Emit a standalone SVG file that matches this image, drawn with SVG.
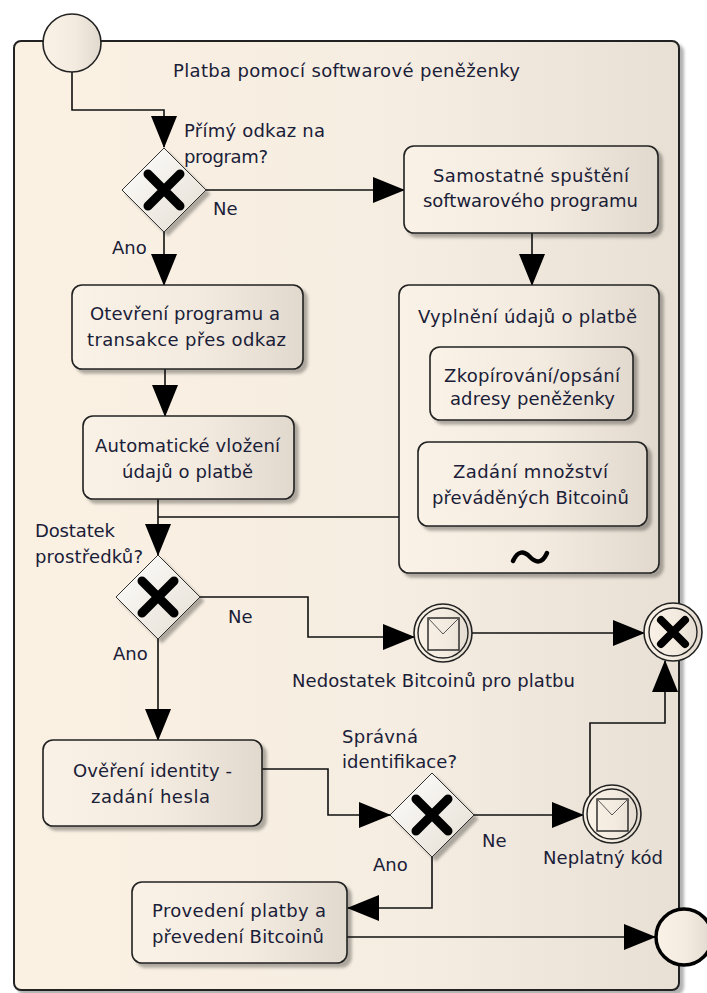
<svg xmlns="http://www.w3.org/2000/svg" width="707" height="993" viewBox="0 0 707 993">
<style>
.t{font-family:"DejaVu Sans","Liberation Sans",sans-serif;font-size:18px;fill:#1a2038}
.m{text-anchor:middle}
.box{fill:url(#bg);stroke:#222;stroke-width:1.6}
.gw{fill:url(#gg);stroke:#333;stroke-width:1}
.x{stroke:#000;stroke-width:9;stroke-linecap:round}
.c{fill:none;stroke:#111;stroke-width:1.6}
.ev{fill:url(#bg);stroke:#222;stroke-width:1.6}
</style>
<defs>
<linearGradient id="bg" x1="0" y1="0" x2="1" y2="0">
<stop offset="0" stop-color="#faf2e6"/><stop offset="0.55" stop-color="#f3ebdf"/><stop offset="1" stop-color="#e1d9cd"/>
</linearGradient>
<linearGradient id="cg" x1="0" y1="0" x2="1" y2="0">
<stop offset="0" stop-color="#fbf1e3"/><stop offset="0.6" stop-color="#f5ede1"/><stop offset="1" stop-color="#e8e0d4"/>
</linearGradient>
<linearGradient id="gg" x1="0" y1="0" x2="1" y2="1">
<stop offset="0" stop-color="#ffffff"/><stop offset="1" stop-color="#e4ddd1"/>
</linearGradient>
<filter id="sh" x="-20%" y="-20%" width="150%" height="150%">
<feGaussianBlur in="SourceAlpha" stdDeviation="1.5"/>
<feOffset dx="4" dy="4" result="o"/>
<feFlood flood-color="#000" flood-opacity="0.3"/>
<feComposite in2="o" operator="in"/>
<feMerge><feMergeNode/><feMergeNode in="SourceGraphic"/></feMerge>
</filter>
<marker id="ah" markerUnits="userSpaceOnUse" markerWidth="32" markerHeight="28" viewBox="0 0 32 28" refX="31" refY="14" orient="auto">
<path d="M0,1 L32,14 L0,27 Z" fill="#000"/>
</marker>
</defs>

<g id="pool">
<rect x="14" y="41" width="665" height="949" rx="7" fill="url(#cg)" stroke="#222" stroke-width="2" filter="url(#sh)"/>
<text class="t" x="173" y="77" textLength="347" lengthAdjust="spacing">Platba pomocí softwarové peněženky</text>
</g>

<g id="connectors">
<path class="c" d="M72,72 V110 H164 V147" marker-end="url(#ah)"/>
<path class="c" d="M206,190 H404" marker-end="url(#ah)"/>
<path class="c" d="M164,232 V285" marker-end="url(#ah)"/>
<path class="c" d="M532,233 V285" marker-end="url(#ah)"/>
<path class="c" d="M165,369 V416" marker-end="url(#ah)"/>
<path class="c" d="M158,499 V555" marker-end="url(#ah)"/>
<path class="c" d="M399,517 H158"/>
<path class="c" d="M200,597 H308 V637 H414" marker-end="url(#ah)"/>
<path class="c" d="M472,633 H644" marker-end="url(#ah)"/>
<path class="c" d="M158,639 V740" marker-end="url(#ah)"/>
<path class="c" d="M262,769 H328 V815 H390" marker-end="url(#ah)"/>
<path class="c" d="M474,815 H583" marker-end="url(#ah)"/>
<path class="c" d="M590,795 V723 H665 V661" marker-end="url(#ah)"/>
<path class="c" d="M432,857 V908 H348" marker-end="url(#ah)"/>
<path class="c" d="M347,937 H655" marker-end="url(#ah)"/>
</g>

<g id="start">
<circle cx="72" cy="43" r="29" class="ev"/>
</g>

<g id="gw1">
<polygon class="gw" points="164,148 206,190 164,232 122,190" filter="url(#sh)"/>
<path class="x" d="M148,174 L180,206 M180,174 L148,206"/>
<text class="t" x="184" y="137" textLength="141" lengthAdjust="spacing">Přímý odkaz na</text>
<text class="t" x="184" y="163" textLength="84" lengthAdjust="spacing">program?</text>
<text class="t" x="213" y="215">Ne</text>
<text class="t" x="112" y="254">Ano</text>
</g>

<g id="samostatne">
<rect class="box" x="404" y="146" width="254" height="87" rx="10" filter="url(#sh)"/>
<text class="t m" x="531" y="182" textLength="196" lengthAdjust="spacing">Samostatné spuštění</text>
<text class="t m" x="530.5" y="207" textLength="215" lengthAdjust="spacing">softwarového programu</text>
</g>

<g id="vyplneni">
<rect class="box" x="399" y="285" width="260" height="288" rx="10" filter="url(#sh)"/>
<text class="t m" x="527.5" y="323" textLength="219" lengthAdjust="spacing">Vyplnění údajů o platbě</text>
<path d="M513,561 C518,550 524,551 530,557 C536,563 542,564 547,553" fill="none" stroke="#000" stroke-width="4.5" stroke-linecap="round"/>
</g>

<g id="zkopirovani">
<rect class="box" x="430" y="347" width="203" height="73" rx="10" filter="url(#sh)"/>
<text class="t m" x="532" y="382" textLength="176" lengthAdjust="spacing">Zkopírování/opsání</text>
<text class="t m" x="532.5" y="405" textLength="165" lengthAdjust="spacing">adresy peněženky</text>
</g>

<g id="zadani">
<rect class="box" x="418" y="442" width="229" height="84" rx="10" filter="url(#sh)"/>
<text class="t m" x="530.5" y="478" textLength="155" lengthAdjust="spacing">Zadání množství</text>
<text class="t m" x="530.5" y="504" textLength="197" lengthAdjust="spacing">převáděných Bitcoinů</text>
</g>

<g id="otevreni">
<rect class="box" x="72" y="285" width="231" height="84" rx="10" filter="url(#sh)"/>
<text class="t m" x="185" y="320" textLength="190" lengthAdjust="spacing">Otevření programu a</text>
<text class="t m" x="186.5" y="346" textLength="199" lengthAdjust="spacing">transakce přes odkaz</text>
</g>

<g id="automaticke">
<rect class="box" x="83" y="416" width="211" height="83" rx="10" filter="url(#sh)"/>
<text class="t m" x="187.5" y="452" textLength="185" lengthAdjust="spacing">Automatické vložení</text>
<text class="t m" x="187.5" y="478" textLength="131" lengthAdjust="spacing">údajů o platbě</text>
</g>

<g id="gw2">
<polygon class="gw" points="158,555 200,597 158,639 116,597" filter="url(#sh)"/>
<path class="x" d="M142,581 L174,613 M174,581 L142,613"/>
<text class="t" x="35" y="537" textLength="80" lengthAdjust="spacing">Dostatek</text>
<text class="t" x="35" y="563" textLength="108" lengthAdjust="spacing">prostředků?</text>
<text class="t" x="228" y="623">Ne</text>
<text class="t" x="113" y="660">Ano</text>
</g>

<g id="nedostatek">
<circle cx="443" cy="633" r="29" class="ev"/>
<circle cx="443" cy="633" r="25" fill="none" stroke="#222" stroke-width="1.4"/>
<rect x="428" y="618" width="31" height="32" fill="none" stroke="#222" stroke-width="1.4"/>
<path d="M428,618 L443,634 L459,618" fill="none" stroke="#555" stroke-width="1"/>
<text class="t m" x="433.5" y="687" textLength="283" lengthAdjust="spacing">Nedostatek Bitcoinů pro platbu</text>
</g>

<g id="cancel">
<circle cx="673" cy="632" r="29" class="ev"/>
<circle cx="673" cy="632" r="24" fill="none" stroke="#222" stroke-width="1.4"/>
<path d="M661,620 L685,644 M685,620 L661,644" stroke="#000" stroke-width="8" stroke-linecap="round"/>
</g>

<g id="overeni">
<rect class="box" x="43" y="740" width="219" height="86" rx="10" filter="url(#sh)"/>
<text class="t m" x="152.5" y="777" textLength="159" lengthAdjust="spacing">Ověření identity -</text>
<text class="t m" x="150.5" y="803" textLength="119" lengthAdjust="spacing">zadání hesla</text>
</g>

<g id="gw3">
<polygon class="gw" points="432,773 474,815 432,857 390,815" filter="url(#sh)"/>
<path class="x" d="M416,799 L448,831 M448,799 L416,831"/>
<text class="t" x="342" y="743" textLength="76" lengthAdjust="spacing">Správná</text>
<text class="t" x="342" y="768" textLength="115" lengthAdjust="spacing">identifikace?</text>
<text class="t" x="482" y="847">Ne</text>
<text class="t" x="373" y="871">Ano</text>
</g>

<g id="neplatny">
<circle cx="612" cy="814" r="29" class="ev"/>
<circle cx="612" cy="814" r="25" fill="none" stroke="#222" stroke-width="1.4"/>
<rect x="597" y="799" width="31" height="32" fill="none" stroke="#222" stroke-width="1.4"/>
<path d="M597,799 L612,815 L628,799" fill="none" stroke="#555" stroke-width="1"/>
<text class="t m" x="603" y="864" textLength="120" lengthAdjust="spacing">Neplatný kód</text>
</g>

<g id="provedeni">
<rect class="box" x="132" y="882" width="215" height="81" rx="10" filter="url(#sh)"/>
<text class="t m" x="239" y="917" textLength="174" lengthAdjust="spacing">Provedení platby a</text>
<text class="t m" x="238" y="943" textLength="172" lengthAdjust="spacing">převedení Bitcoinů</text>
</g>

<g id="end">
<circle cx="684" cy="937" r="28" fill="url(#bg)" stroke="#000" stroke-width="3.5"/>
</g>
</svg>
